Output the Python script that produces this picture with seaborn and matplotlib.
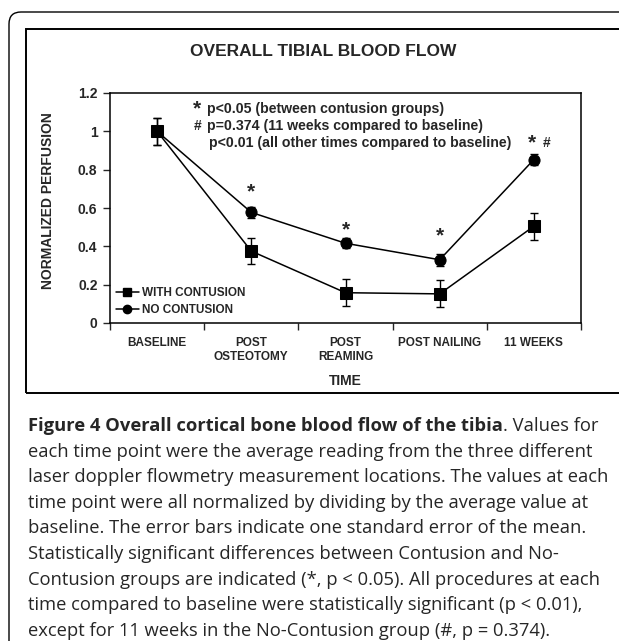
import numpy as np
import pandas as pd
import matplotlib.pyplot as plt
import seaborn as sns
from matplotlib.lines import Line2D
from matplotlib.patches import FancyBboxPatch

## dados
tempos = ['BASELINE', 'POST\nOSTEOTOMY', 'POST\nREAMING', 'POST NAILING', '11 WEEKS']
com_contusao = [1.0, 0.375, 0.158, 0.152, 0.505]
com_contusao_erro = [0.07, 0.068, 0.07, 0.07, 0.07]
sem_contusao = [1.0, 0.577, 0.416, 0.33, 0.853]
sem_contusao_erro = [0.07, 0.03, 0.025, 0.03, 0.03]
grupos = ['WITH CONTUSION', 'NO CONTUSION']

## asteriscos (p<0.05) acima dos pontos
pos_asterisco = [1, 2, 3, 3.98]
alt_asterisco = [0.683, 0.487, 0.452, 0.94]

legenda_p = ['p<0.05 (between contusion groups)',
             'p=0.374 (11 weeks compared to baseline)',
             'p<0.01 (all other times compared to baseline)']

legenda_fig = [
    'each time point were the average reading from the three different',
    'laser doppler flowmetry measurement locations. The values at each',
    'time point were all normalized by dividing by the average value at',
    'baseline. The error bars indicate one standard error of the mean.',
    'Statistically significant differences between Contusion and No-',
    'Contusion groups are indicated (*, p < 0.05). All procedures at each',
    'time compared to baseline were statistically significant (p < 0.01),',
    'except for 11 weeks in the No-Contusion group (#, p = 0.374).',
]

x = np.arange(len(tempos))
dados = pd.DataFrame({
    'x': np.concatenate([x, x]),
    'valor': com_contusao + sem_contusao,
    'grupo': [grupos[0]] * len(x) + [grupos[1]] * len(x),
})

sns.set_style('white')
plt.rcParams['font.family'] = ['Liberation Sans', 'DejaVu Sans']
plt.rcParams['font.weight'] = 'bold'

fig = plt.figure(figsize=(6.19, 6.41), dpi=100)
ax = fig.add_axes([110 / 619, 1 - 323 / 641, 471 / 619, 230 / 641])

sns.lineplot(data=dados, x='x', y='valor', hue='grupo', style='grupo',
             palette=['black', 'black'], markers={grupos[0]: 's', grupos[1]: 'o'},
             dashes=False, markersize=8, markeredgecolor='black',
             linewidth=1.1, legend=False, ax=ax, errorbar=None)

## barras de erro
ax.errorbar(x, com_contusao, yerr=com_contusao_erro, fmt='none', ecolor='black',
            elinewidth=1, capsize=2.8, capthick=1)
ax.errorbar(x, sem_contusao, yerr=sem_contusao_erro, fmt='none', ecolor='black',
            elinewidth=1, capsize=2.8, capthick=1)

ax.set_xlim(-0.5, 4.5)
ax.set_ylim(0, 1.2)
ax.set_yticks([0, 0.2, 0.4, 0.6, 0.8, 1.0, 1.2])
ax.set_yticklabels(['0', '0.2', '0.4', '0.6', '0.8', '1', '1.2'], fontsize=10, fontweight='bold')
ax.set_xticks(x)
ax.set_xticklabels(tempos, fontsize=8.5, fontweight='bold', linespacing=1.2)
ax.set_xticks(np.arange(-0.5, 5, 1), minor=True)
ax.tick_params(axis='x', which='major', length=0, pad=10)
ax.tick_params(axis='x', which='minor', length=5, width=1, direction='out', bottom=True)
ax.tick_params(axis='y', length=5, width=1, direction='out', left=True, pad=4)
ax.set_xlabel('')
ax.set_ylabel('')
for s in ax.spines.values():
    s.set_linewidth(1.1)
    s.set_color('black')

## asteriscos
for px, py in zip(pos_asterisco, alt_asterisco):
    ax.text(px, py, '*', fontsize=15, fontweight='bold', ha='center', va='center')
ax.text(4.13, 0.94, '#', fontsize=10, fontweight='bold', ha='center', va='center')

## texto com os p-valores
ax.text(0.424, 1.116, '*', fontsize=15, fontweight='bold', ha='center', va='center')
ax.text(0.434, 1.028, '#', fontsize=10, fontweight='bold', ha='center', va='center')
ax.text(0.53, 1.116, legenda_p[0], fontsize=10.2, fontweight='bold', va='center')
ax.text(0.53, 1.028, legenda_p[1], fontsize=10.2, fontweight='bold', va='center')
ax.text(0.55, 0.94, legenda_p[2], fontsize=10.2, fontweight='bold', va='center')

## legenda
handles = [Line2D([], [], color='black', marker='s', markersize=6, lw=1.1),
           Line2D([], [], color='black', marker='o', markersize=6, lw=1.1)]
leg = ax.legend(handles, grupos, loc='lower left', bbox_to_anchor=(0.012, 0.03),
                frameon=False, handlelength=2.0, handletextpad=0.2, labelspacing=0.45,
                borderpad=0, borderaxespad=0, prop={'size': 8.5, 'weight': 'bold'})

## titulos
fig.text(323 / 619, 1 - 52 / 641, 'OVERALL TIBIAL BLOOD FLOW', fontsize=12.5,
         fontweight='bold', ha='center', va='center')
fig.text(48 / 619, 1 - 201 / 641, 'NORMALIZED PERFUSION', fontsize=10,
         fontweight='bold', rotation=90, ha='center', va='center')
fig.text(345.5 / 619, 1 - 381 / 641, 'TIME', fontsize=10, fontweight='bold',
         ha='center', va='center')

## molduras
fig.add_artist(FancyBboxPatch((0.09, -0.5), 7.0, 6.29 + 0.5,
                              boxstyle='round,pad=0,rounding_size=0.12',
                              transform=fig.dpi_scale_trans, fill=False,
                              lw=1, ec='black'))
fig.add_artist(plt.Rectangle((0.26, 2.48), 7.0, 6.12 - 2.48,
                             transform=fig.dpi_scale_trans, fill=False,
                             lw=1.4, ec='black'))

## legenda da figura
fonte_cap = ['Open Sans', 'DejaVu Sans']
tam_cap = 13.2
y0 = 431
t = fig.text(28 / 619, 1 - y0 / 641, 'Figure 4 Overall cortical bone blood flow of the tibia',
             fontsize=tam_cap, fontweight='bold', family=fonte_cap, va='baseline')
fig.canvas.draw()
bb = t.get_window_extent()
fig.text(bb.x1 / 619, 1 - y0 / 641, '. Values for', fontsize=tam_cap,
         fontweight='normal', family=fonte_cap, va='baseline')
for i, linha in enumerate(legenda_fig):
    fig.text(28 / 619, 1 - (y0 + 25.6 * (i + 1)) / 641, linha, fontsize=tam_cap,
             fontweight='normal', family=fonte_cap, va='baseline')

fig.savefig('out.png', dpi=100)
